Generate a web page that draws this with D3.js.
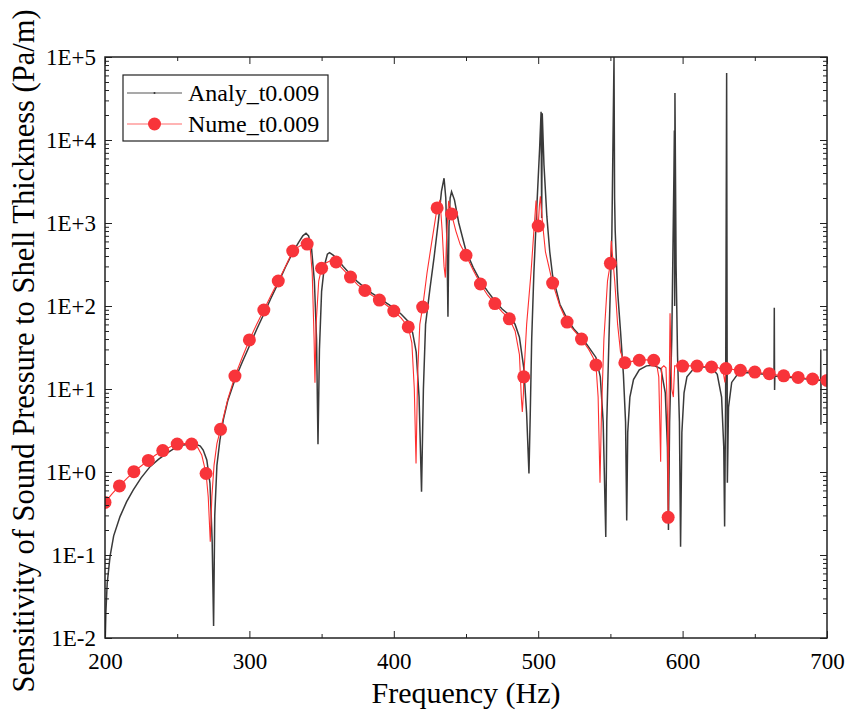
<!DOCTYPE html>
<html>
<head>
<meta charset="utf-8">
<script src="https://cdn.jsdelivr.net/npm/d3@7"></script>
<style>
  body { margin: 0; background: #fff; }
  svg { display: block; }
  .axis path, .axis line { stroke: #222; }
  .axis text { font-family: "Liberation Serif", "Times New Roman", serif; font-size: 23px; fill: #000; }
</style>
</head>
<body>
<svg id="chart" width="847" height="718"></svg>
<script>
// Analytical curve (frequency Hz, sensitivity Pa/m)
var analyFreq = [200.2,200.6,201.5,203.5,206,210.4,215,219.6,225,231.2,237,242.7,248,254.2,259,263.4,266,268,270.5,272.7,274.2,275.2,276,277.5,279.6,282,285,290,295,300,305,310,315,320,325,330,334,337,339.2,341,343,345,346.5,347.5,348.5,350,352,354,355.5,358,360,365,370,375,380,385,390,395,400,405,410,413,415.5,417.5,419.2,420.5,422,425,428,431,433,434.8,436,436.8,437.5,438.2,439,440,442,445,450,455,460,465,470,475,480,484,487,490,492,493.6,494.5,495.5,497,499,501,502,502.4,502.8,504,506,508,510,515,520,525,530,535,540,543,545,546.8,547.5,549,551,552.5,552.9,553.3,553.8,555,557,559,560.5,561.3,562,563.5,566,570,575,580,585,588,589.5,590.2,591,592.5,594,594.3,594.5,594.7,595.5,596.5,597.8,598.6,599.5,601,603,607,610,615,620,624,627,628.5,629.1,629.8,630.5,630.8,631,631.8,634,638,645,650,655,660,663.3,663.5,663.6,663.7,663.9,670,680,690,695.6,695.7,695.8,695.9,700];
var analyVal = [0.01,0.02,0.045,0.096,0.17,0.29,0.44,0.61,0.85,1.16,1.42,1.68,1.92,2.11,2.16,2.15,2.05,1.84,1.4,0.73,0.15,0.014,0.3,1.2,2.43,4.3,7.2,13,21,33,52,80,125,190,295,440,580,700,752,700,500,200,40,2.16,30,150,310,420,440,410,380,300,240,195,165,142,125,108,95,80,65,48,28,8,0.58,10,60,160,400,1100,2400,3460,2000,600,74,900,2000,2380,1900,1000,460,290,200,150,115,92,78,60,42,18,5,0.96,5,40,250,1500,8000,21900,1150,21000,5000,1200,450,230,105,70,52,42,32,24,14,4,0.165,4,40,700,100000,2000,824,500,150,50,15,4,0.26,3,8,13,17,19,19.3,17.5,9,2,0.2,4,40,4000,13000,100,36800,300,25,4,0.126,3,9,14,17,18,18.5,18.2,15,8,2,0.22,8,64000,60,0.74,6,12,15,15.8,15.5,15.2,14.8,14.5,95,30,9.7,14.3,14,13.5,13,12.7,30,3.7,12.6,12.5];

// Numerical curve; markers sit on every 10 Hz sample
var numeFreq = [200,205,210,215,220,225,230,235,240,245,250,255,260,264,267,270,271.5,272.9,274,275.5,277.5,280,285,290,295,300,305,310,315,320,325,330,335,338,340,342,343.5,344.8,345.4,346.2,348,350,353,356,360,365,370,375,380,385,390,395,400,405,410,412.5,414.2,415.4,416.5,418,420,423,426,430,432,433.5,434.8,435.7,436.6,438,440,443,446,450,455,460,465,470,475,480,484,487,488.3,489,489.8,490,492,495,497,498.5,499.3,500,500.8,501.5,503,505,510,515,520,525,530,535,538,540,541.5,542.8,543.8,545.5,548,550,550.6,551.5,553,555,557,560,565,570,575,580,582,583.5,584.8,585.5,587,588.5,589.5,590,590.5,591.3,592.5,593.6,594.5,597,600,605,610,615,620,625,628,629.3,630,635,640,645,650,655,660,665,670,675,680,685,690,695,700];
var numeVal = [0.43,0.55,0.68,0.83,1.01,1.18,1.38,1.6,1.81,2.0,2.17,2.2,2.17,2.0,1.6,0.96,0.5,0.145,0.5,1.2,2.2,3.27,7.5,14.3,24,39,60,89.5,135,200,300,460,530,560,558,520,250,40,11.9,60,200,285,330,350,339,275,223,180,154,134,118,102,87,72,56,36,10,1.27,15,60,97,250,550,1520,1890,800,300,220,700,1850,1283,800,550,409,270,184,135,107,85,70,50,26,8,5.3,9,14,60,250,800,1860,1100,920,1600,2100,1000,450,189,100,64,50,40,30,24,19.5,8,0.74,5,40,200,327,612,400,200,60,28,20.7,21.5,22.2,22.5,22.2,20,14,1.33,18,19,18,5,0.284,4,82,10,8,19,19,18.9,19,18.9,18.7,18.4,18,16.5,12,17.6,17.2,16.8,16.4,16.0,15.6,15.3,14.8,14.4,14.1,13.8,13.5,13.2,12.9,12.7];

var xTicks = [200, 300, 400, 500, 600, 700];
var xMinor = [250, 350, 450, 550, 650];
var yTicks = [1e-2, 1e-1, 1e0, 1e1, 1e2, 1e3, 1e4, 1e5];
var yTickLabels = ["1E-2", "1E-1", "1E+0", "1E+1", "1E+2", "1E+3", "1E+4", "1E+5"];
var seriesNames = ["Analy_t0.009", "Nume_t0.009"];

var pLeft = 105, pRight = 827, pTop = 57, pBottom = 638;
var svg = d3.select("#chart");

var x = d3.scaleLinear().domain([200, 700]).range([pLeft, pRight]);
var y = d3.scaleLog().domain([1e-2, 1e5]).range([pBottom, pTop]);

var yMinor = [];
yTicks.slice(0, -1).forEach(function(d) {
  for (var k = 2; k < 10; k++) yMinor.push(d * k);
});

svg.append("clipPath").attr("id", "plot")
  .append("rect")
  .attr("x", pLeft).attr("y", pTop)
  .attr("width", pRight - pLeft).attr("height", pBottom - pTop);

var analy = analyFreq.map(function(f, i) { return { f: f, v: analyVal[i] }; });
var nume = numeFreq.map(function(f, i) { return { f: f, v: numeVal[i] }; });
var dots = nume.filter(function(d) { return d.f % 10 === 0; });

var line = d3.line()
  .x(function(d) { return x(d.f); })
  .y(function(d) { return y(d.v); });

var plot = svg.append("g").attr("clip-path", "url(#plot)");

plot.append("path")
  .datum(analy)
  .attr("fill", "none")
  .attr("stroke", "#3a3a3a")
  .attr("stroke-width", 1.5)
  .attr("d", line);

plot.append("path")
  .datum(nume)
  .attr("fill", "none")
  .attr("stroke", "#ff3030")
  .attr("stroke-width", 1.1)
  .attr("d", line);

plot.selectAll(".dot")
  .data(dots)
  .enter()
  .append("circle")
  .attr("class", "dot")
  .attr("cx", function(d) { return x(d.f); })
  .attr("cy", function(d) { return y(d.v); })
  .attr("r", 6.5)
  .attr("fill", "#f8343a");

// axes with inward ticks on all four sides
function noText(g) { g.selectAll("text").remove(); g.select(".domain").remove(); }

svg.append("g").attr("class", "axis")
  .attr("transform", "translate(0," + pBottom + ")")
  .call(d3.axisBottom(x).tickValues(xMinor).tickSize(-4).tickFormat(""))
  .call(noText);
svg.append("g").attr("class", "axis")
  .attr("transform", "translate(0," + pTop + ")")
  .call(d3.axisTop(x).tickValues(xMinor).tickSize(-4).tickFormat(""))
  .call(noText);
svg.append("g").attr("class", "axis")
  .attr("transform", "translate(" + pLeft + ",0)")
  .call(d3.axisLeft(y).tickValues(yMinor).tickSize(-4).tickFormat(""))
  .call(noText);
svg.append("g").attr("class", "axis")
  .attr("transform", "translate(" + pRight + ",0)")
  .call(d3.axisRight(y).tickValues(yMinor).tickSize(-4).tickFormat(""))
  .call(noText);

svg.append("g").attr("class", "axis")
  .attr("transform", "translate(0," + pTop + ")")
  .call(d3.axisTop(x).tickValues(xTicks).tickSize(-7).tickFormat(""))
  .call(noText);
svg.append("g").attr("class", "axis")
  .attr("transform", "translate(" + pRight + ",0)")
  .call(d3.axisRight(y).tickValues(yTicks).tickSize(-7).tickFormat(""))
  .call(noText);

svg.append("g").attr("class", "axis")
  .attr("transform", "translate(0," + pBottom + ")")
  .call(d3.axisBottom(x).tickValues(xTicks).tickSize(-7).tickPadding(10))
  .call(function(g) { g.select(".domain").remove(); g.selectAll("text").attr("dy", "0.9em"); });

svg.append("g").attr("class", "axis")
  .attr("transform", "translate(" + pLeft + ",0)")
  .call(d3.axisLeft(y).tickValues(yTicks).tickSize(-7).tickPadding(9)
    .tickFormat(function(d, i) { return yTickLabels[i]; }))
  .call(function(g) { g.select(".domain").remove(); g.selectAll("text").attr("dy", "0.34em"); });

svg.append("rect")
  .attr("x", pLeft).attr("y", pTop)
  .attr("width", pRight - pLeft).attr("height", pBottom - pTop)
  .attr("fill", "none")
  .attr("stroke", "#222")
  .attr("stroke-width", 1.5);

svg.append("text")
  .attr("x", (pLeft + pRight) / 2)
  .attr("y", 703)
  .attr("text-anchor", "middle")
  .style("font-family", "Liberation Serif, serif")
  .style("font-size", "30px")
  .text("Frequency (Hz)");

svg.append("text")
  .attr("transform", "translate(34,351) rotate(-90)")
  .attr("text-anchor", "middle")
  .style("font-family", "Liberation Serif, serif")
  .style("font-size", "30.5px")
  .text("Sensitivity of Sound Pressure to Shell Thickness (Pa/m)");

// legend
var legend = svg.append("g").attr("transform", "translate(123,75)");
legend.append("rect")
  .attr("width", 205).attr("height", 66)
  .attr("fill", "#fff")
  .attr("stroke", "#222")
  .attr("stroke-width", 1.2);

var rows = legend.selectAll(".row")
  .data(seriesNames)
  .enter()
  .append("g")
  .attr("transform", function(d, i) { return "translate(0," + (18 + i * 31) + ")"; });

rows.append("line")
  .attr("x1", 4).attr("x2", 59)
  .attr("stroke", function(d, i) { return i ? "#ff6a6a" : "#555"; })
  .attr("stroke-width", 1.2);

rows.append("circle")
  .attr("cx", 31.5)
  .attr("r", function(d, i) { return i ? 6.5 : 1; })
  .attr("fill", function(d, i) { return i ? "#f8343a" : "#333"; });

rows.append("text")
  .attr("x", 65)
  .attr("dy", "0.35em")
  .style("font-family", "Liberation Serif, serif")
  .style("font-size", "24px")
  .text(function(d) { return d; });
</script>
</body>
</html>
